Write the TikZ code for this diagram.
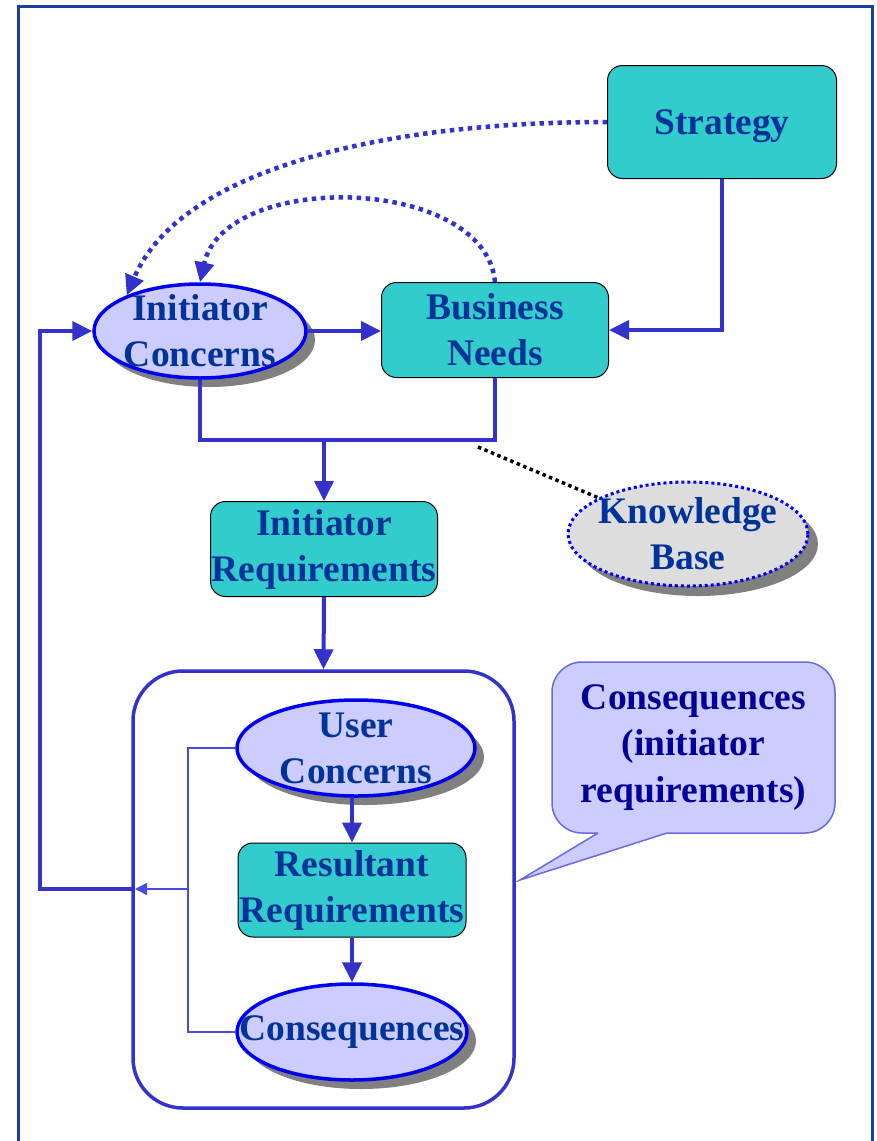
\documentclass[tikz,border=0pt]{standalone}
\usepackage{fontspec}
\setmainfont{Liberation Serif}
\usetikzlibrary{arrows.meta,shapes.geometric,shadows}

\definecolor{tealbox}{HTML}{33CCCC}
\definecolor{ovalfill}{HTML}{CCCCFF}
\definecolor{ovalline}{HTML}{0000F0}
\definecolor{textblue}{HTML}{003399}
\definecolor{notetext}{HTML}{000099}
\definecolor{linkblue}{HTML}{3333CC}
\definecolor{thinblue}{HTML}{4A4ADD}
\definecolor{framecol}{HTML}{1A3FA0}
\definecolor{shadowgray}{HTML}{808080}
\definecolor{kbfill}{HTML}{DDDDDD}
\definecolor{noteline}{HTML}{6A6ADD}

\begin{document}
\begin{tikzpicture}[x=1pt,y=-1pt,
  lbl/.style={font=\bfseries\fontsize{37.5}{46}\selectfont, text=textblue, align=center, inner sep=0pt},
  box/.style={lbl, draw=black, line width=1pt, fill=tealbox, rounded corners=15pt},
  oval/.style={ellipse, draw=ovalline, line width=3.5pt, fill=ovalfill, inner sep=0pt,
    drop shadow={shadow xshift=9pt, shadow yshift=-9pt, fill=shadowgray, opacity=1}},
  conn/.style={draw=linkblue, line width=4pt},
  thinconn/.style={draw=thinblue, line width=1.5pt},
  tip/.style={-{Triangle[length=20pt,width=19pt]}},
  smalltip/.style={-{Triangle[length=12pt,width=12pt]}},
  dotlink/.style={draw=linkblue, line width=4.5pt, dash pattern=on 4.5pt off 4.5pt},
]
\useasboundingbox (0,0) rectangle (877,1141);

% outer frame (open at the bottom)
\draw[framecol, line width=3pt] (18,1141) -- (18,6) -- (872,6) -- (872,1141);

% group frame around the user side
\node[draw=linkblue, line width=3.5pt, rounded corners=50pt,
      minimum width=381pt, minimum height=437pt] (grp) at (323.5,889.5) {};

% main boxes
\node[box, minimum width=229pt, minimum height=113pt, text height=32pt, text depth=8pt]
  (st) at (722,122) {Strategy};
\node[box, minimum width=227pt, minimum height=95pt] (bn) at (495,330) {Business\\Needs};
\node[box, minimum width=227pt, minimum height=95pt] (ir) at (324,549) {Initiator\\Requirements};
\node[box, minimum width=228pt, minimum height=94pt] (rr) at (352,890) {Resultant\\Requirements};

% ovals
\node[oval, minimum width=212pt, minimum height=94pt] (ic) at (200,331) {};
\node[lbl] (ict) at (ic) {Initiator\\Concerns};
\node[oval, minimum width=238pt, minimum height=96pt] (uc) at (356,748) {};
\node[lbl] (uct) at (uc) {User\\Concerns};
\node[oval, minimum width=230pt, minimum height=96pt] (cs) at (352,1032) {};
\node[lbl] (cst) at (cs) {Consequences};

% knowledge base
\node[ellipse, fill=kbfill, draw=ovalline, line width=3pt, dash pattern=on 3pt off 3pt,
      inner sep=0pt, minimum width=240pt, minimum height=104pt,
      drop shadow={shadow xshift=10pt, shadow yshift=-10pt, fill=shadowgray, opacity=1}]
  (kb) at (688,534) {};
\node[lbl] (kbt) at (kb) {Knowledge\\Base};

% note bubble
\node[fill=ovalfill, draw=noteline, line width=1.5pt, rounded corners=30pt,
      minimum width=283pt, minimum height=171pt, inner sep=0pt,
      font=\bfseries\fontsize{37.5}{46.5}\selectfont, text=notetext, align=center]
  (note) at (693.5,747.5) {Consequences\\(initiator\\requirements)};
\coordinate (notetip) at (520,880);
\coordinate (tailL) at (598,833);
\coordinate (tailR) at (667,833);
\fill[ovalfill] (598,828) -- (tailL) -- (notetip) -- (tailR) -- (667,828) -- cycle;
\draw[noteline, line width=1.5pt, line join=miter] (tailL) -- (notetip) -- (tailR);

% helper points
\coordinate (jn) at (324,440);
\coordinate (kbl) at (478,447);
\coordinate (merge) at (188,889);
\coordinate (exit) at (135,889);
\coordinate (loop) at (40,889);

% solid connectors
\draw[conn, tip] (st.south) |- (bn.east);
\draw[conn, tip] (ic.east) -- (ic.east -| bn.west);
\draw[conn] (ic.south) -- (ic.south |- jn) -- (bn.south |- jn) -- (bn.south);
\draw[conn, tip] (jn) -- (ir.north);
\draw[conn, tip] (ir.south) -- (grp.north);
\draw[conn, tip] (uc.south -| rr.north) -- (rr.north);
\draw[conn, tip] (rr.south) -- (cs.north);
\draw[conn, tip] (exit) -- (loop) |- (ic.west);

% feedback from user concerns and consequences
\draw[thinconn] (uc.west) -| (merge);
\draw[thinconn] (cs.west) -| (merge);
\draw[thinconn, smalltip] (merge) -- (exit);

% dotted influence arcs
\draw[dotlink, tip] (st.west) .. controls (380,122) and (180,170) .. (ic.154);
\draw[dotlink, tip] (bn.north) .. controls (485,175) and (225,170) .. (ic.north);

% link to the knowledge base
\draw[black, line width=3.5pt, dash pattern=on 3.5pt off 3.5pt] (kbl) -- (kb.158);

\end{tikzpicture}
\end{document}
